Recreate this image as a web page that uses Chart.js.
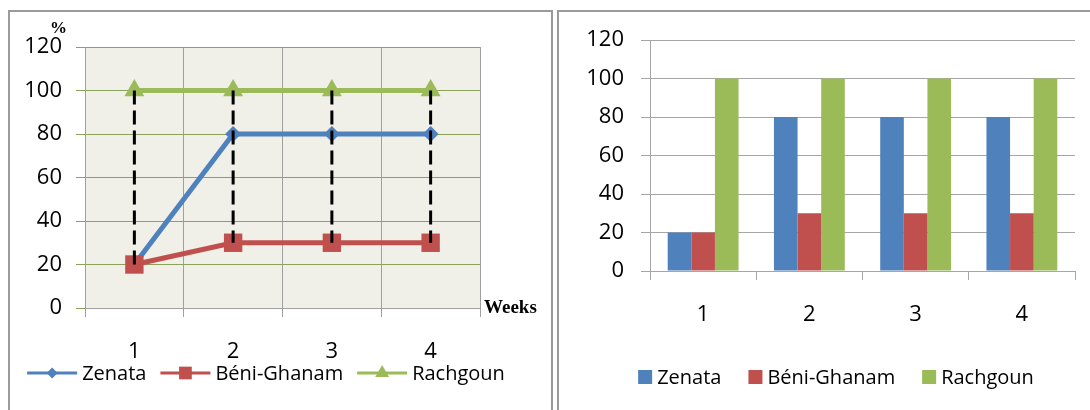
<!DOCTYPE html>
<html>
<head>
<meta charset="utf-8">
<script src="https://cdn.jsdelivr.net/npm/chart.js@4/dist/chart.umd.min.js"></script>
<style>
  body { margin: 0; background: #fff; width: 1090px; height: 410px; overflow: hidden; position: relative; }
  .frame { position: absolute; border: 2px solid #9a9a9a; border-bottom: none; box-sizing: border-box; }
  canvas { position: absolute; top: 0; }
</style>
</head>
<body>
<div class="frame" style="left:8px; top:10px; width:545px; height:400px;"></div>
<div class="frame" style="left:557px; top:10px; width:540px; height:400px; border-right:none;"></div>
<canvas id="lineChart" width="552" height="410" style="left:0"></canvas>
<canvas id="barChart" width="532" height="410" style="left:558px"></canvas>
<script>
const weeks = ['1', '2', '3', '4'];
const zenata = [20, 80, 80, 80];
const beniGhanam = [20, 30, 30, 30];
const rachgoun = [100, 100, 100, 100];
const yMin = 0, yMax = 120, yStep = 20;

const BLUE = '#4F81BD', RED = '#C0504D', GREEN = '#9BBB59';

Chart.defaults.font.family = "'Open Sans', sans-serif";
Chart.defaults.color = '#000';
Chart.defaults.animation = false;

// high-low lines: one dashed segment per week, from the highest to the lowest value
const highLow = weeks.map((w, i) => {
    const vals = [zenata[i], beniGhanam[i], rachgoun[i]];
    return {
        type: 'line',
        label: '',
        data: [{ x: w, y: Math.max(...vals) }, { x: w, y: Math.min(...vals) }],
        borderColor: '#000',
        borderWidth: 3,
        borderDash: [14, 6],
        pointRadius: 0,
        order: 0
    };
});

const plotBg = {
    id: 'plotBg',
    beforeDraw(chart) {
        const { ctx, chartArea: a } = chart;
        ctx.save();
        ctx.fillStyle = '#F0EFE8';
        ctx.fillRect(a.left, a.top, a.right - a.left, a.bottom - a.top);
        ctx.restore();
    }
};

const axisNotes = {
    id: 'axisNotes',
    afterDraw(chart) {
        const { ctx, chartArea: a } = chart;
        const y0 = chart.scales.y.getPixelForValue(0);
        ctx.save();
        ctx.fillStyle = '#000';
        ctx.font = "bold 19px 'Liberation Serif', serif";
        ctx.textBaseline = 'middle';
        ctx.textAlign = 'left';
        ctx.fillText('Weeks', a.right + 4, y0);
        ctx.font = "bold 17px 'Liberation Serif', serif";
        ctx.fillText('%', a.left - 35, a.top - 18);
        ctx.restore();
    }
};

function marker(ctx, style, r, x, y) {
    ctx.beginPath();
    if (style === 'rectRot') {
        ctx.moveTo(x, y - r); ctx.lineTo(x + r, y); ctx.lineTo(x, y + r); ctx.lineTo(x - r, y);
    } else if (style === 'rect') {
        const s = r * Math.SQRT1_2;
        ctx.rect(x - s, y - s, 2 * s, 2 * s);
    } else if (style === 'triangle') {
        ctx.moveTo(x, y - r);
        ctx.lineTo(x + r * Math.sin(Math.PI * 2 / 3), y + r / 2);
        ctx.lineTo(x - r * Math.sin(Math.PI * 2 / 3), y + r / 2);
    }
    ctx.closePath();
    ctx.fill();
}

// legend drawn Excel-style: line+marker samples or square boxes
const officeLegend = {
    id: 'officeLegend',
    afterDraw(chart, args, opts) {
        const ctx = chart.ctx;
        const items = chart.data.datasets.slice(0, 3);
        const sizes = { rectRot: 5.5, rect: 9, triangle: 8 };
        ctx.save();
        ctx.font = "20px 'Open Sans', sans-serif";
        ctx.textBaseline = 'middle';
        ctx.textAlign = 'left';
        const widths = items.map(ds => opts.icon + opts.gap + ctx.measureText(ds.label).width);
        const total = widths.reduce((a, b) => a + b, 0) + opts.spacing * (items.length - 1);
        let x = opts.centerX - total / 2;
        const y = opts.y;
        items.forEach((ds, i) => {
            const col = ds.borderColor || ds.backgroundColor;
            ctx.fillStyle = col;
            if (opts.kind === 'line') {
                ctx.fillRect(x, y - 1.5, opts.icon, 3);
                marker(ctx, ds.pointStyle, sizes[ds.pointStyle], x + opts.icon / 2, y);
            } else {
                ctx.fillRect(x, y - opts.icon / 2, opts.icon, opts.icon);
            }
            ctx.fillStyle = '#000';
            ctx.fillText(ds.label, x + opts.icon + opts.gap, y + 1);
            x += widths[i] + opts.spacing;
        });
        ctx.restore();
    }
};

new Chart(document.getElementById('lineChart'), {
    type: 'line',
    data: {
        labels: weeks,
        datasets: [
            { label: 'Zenata', data: zenata, borderColor: BLUE, backgroundColor: BLUE, borderWidth: 5,
              pointStyle: 'rectRot', pointRadius: 8, pointBorderWidth: 0, tension: 0, order: 3 },
            { label: 'Béni-Ghanam', data: beniGhanam, borderColor: RED, backgroundColor: RED, borderWidth: 5,
              pointStyle: 'rect', pointRadius: 13, pointBorderWidth: 0, tension: 0, order: 2 },
            { label: 'Rachgoun', data: rachgoun, borderColor: GREEN, backgroundColor: GREEN, borderWidth: 5,
              pointStyle: 'triangle', pointRadius: 11.5, pointBorderWidth: 0, tension: 0, order: 1 },
            ...highLow
        ]
    },
    options: {
        responsive: false,
        layout: { padding: { left: 0, right: 72, top: 47, bottom: 42 } },
        scales: {
            x: {
                offset: true,
                grid: { offset: true, color: '#A0A0A0', tickColor: '#A0A0A0', tickLength: 9 },
                border: { color: '#A0A0A0' },
                ticks: { font: { size: 22 }, padding: 22 },
                afterFit(s) { s.height = 60; }
            },
            y: {
                min: yMin, max: yMax,
                grid: { color: '#8AA25A', tickColor: '#8AA25A', tickLength: 9 },
                border: { color: '#A0A0A0' },
                ticks: { stepSize: yStep, font: { size: 22 }, padding: 14 },
                afterFit(s) { s.width = 85; }
            }
        },
        plugins: {
            tooltip: { enabled: false },
            legend: { display: false },
            officeLegend: { kind: 'line', icon: 50, gap: 5, spacing: 14, centerX: 266, y: 373 }
        }
    },
    plugins: [plotBg, axisNotes, officeLegend]
});

new Chart(document.getElementById('barChart'), {
    type: 'bar',
    data: {
        labels: weeks,
        datasets: [
            { label: 'Zenata', data: zenata, backgroundColor: BLUE },
            { label: 'Béni-Ghanam', data: beniGhanam, backgroundColor: RED },
            { label: 'Rachgoun', data: rachgoun, backgroundColor: GREEN }
        ]
    },
    options: {
        responsive: false,
        layout: { padding: { left: 0, right: 15, top: 40, bottom: 69 } },
        datasets: { bar: { categoryPercentage: 3 / 4.5, barPercentage: 1 } },
        scales: {
            x: {
                grid: { offset: true, drawOnChartArea: false, color: '#A6A6A6', tickLength: 9 },
                border: { color: '#A6A6A6' },
                ticks: { font: { size: 22 }, padding: 22 },
                afterFit(s) { s.height = 70; }
            },
            y: {
                min: yMin, max: yMax,
                grid: { color: '#A6A6A6', tickLength: 9 },
                border: { color: '#A6A6A6' },
                ticks: { stepSize: yStep, font: { size: 22 }, padding: 17 },
                afterFit(s) { s.width = 92; }
            }
        },
        plugins: {
            tooltip: { enabled: false },
            legend: { display: false },
            officeLegend: { kind: 'box', icon: 14, gap: 5, spacing: 27, centerX: 278, y: 377 }
        }
    },
    plugins: [officeLegend]
});
</script>
</body>
</html>
